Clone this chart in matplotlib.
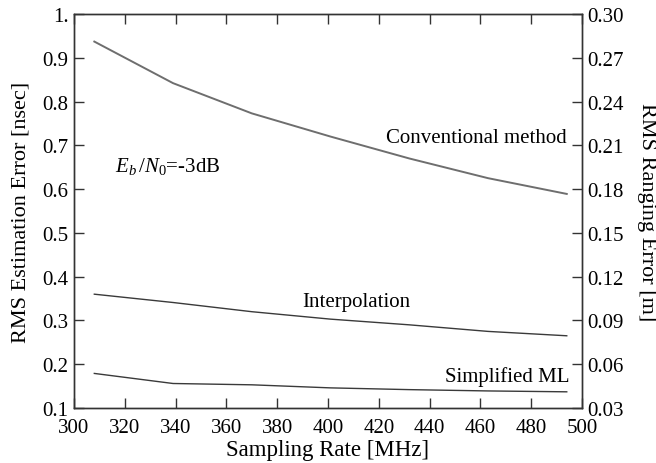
import matplotlib
matplotlib.use("Agg")
import matplotlib.pyplot as plt
from matplotlib.ticker import FixedLocator, FuncFormatter

plt.rcParams['font.family'] = ['Liberation Serif', 'DejaVu Serif']
plt.rcParams['mathtext.fontset'] = 'custom'
plt.rcParams['mathtext.rm'] = 'Liberation Serif'
plt.rcParams['mathtext.it'] = 'Liberation Serif:italic'

rate = [308, 339, 370, 401, 432, 463, 494]
conventional = [0.937, 0.842, 0.773, 0.720, 0.670, 0.625, 0.589]
interpolation = [0.360, 0.341, 0.320, 0.303, 0.290, 0.275, 0.265]
simplified_ml = [0.179, 0.156, 0.153, 0.146, 0.142, 0.139, 0.137]

left_ticks = [0.1, 0.2, 0.3, 0.4, 0.5, 0.6, 0.7, 0.8, 0.9, 1.0]
right_ticks = [0.03, 0.06, 0.09, 0.12, 0.15, 0.18, 0.21, 0.24, 0.27, 0.30]
x_ticks = [300, 320, 340, 360, 380, 400, 420, 440, 460, 480, 500]

fs_tick = 15
fs_lab = 16
fs_txt = 15
fig = plt.figure(figsize=(6.56, 4.64), dpi=100)
ax_w = 0.7744
ax_h = 0.8492
ax = fig.add_axes([0.1128, 0.1185, ax_w, ax_h])

ax.plot(rate, conventional, color='#6e6e6e', lw=1.4)
ax.plot(rate, interpolation, color='#3a3a3a', lw=1.0)
ax.plot(rate, simplified_ml, color='#3a3a3a', lw=1.0)

ax.set_xlim(300, 500)
ax.set_ylim(0.1, 1.0)
ax.xaxis.set_major_locator(FixedLocator(x_ticks))
ax.yaxis.set_major_locator(FixedLocator(left_ticks))
ax.yaxis.set_major_formatter(FuncFormatter(lambda v, p: "1." if abs(v - 1) < 1e-9 else f"{v:.1f}"))
ax.tick_params(axis='x', direction='in', top=True, length=7, width=1, labelsize=fs_tick, pad=7, color='#333333')
ax.tick_params(axis='y', direction='in', right=False, length=7, width=1, labelsize=fs_tick, pad=4, color='#333333')
for s in ax.spines.values():
    s.set_color('#333333')
    s.set_linewidth(1.0)

ax2 = ax.twinx()
ax2.set_ylim(0.03, 0.30)
ax2.yaxis.set_major_locator(FixedLocator(right_ticks))
ax2.yaxis.set_major_formatter(FuncFormatter(lambda v, p: f"{v:.2f}"))
ax2.tick_params(axis='y', direction='in', length=7, width=1, labelsize=fs_tick, pad=4, color='#333333')
for s in ax2.spines.values():
    s.set_color('#333333')
    s.set_linewidth(1.0)

ax.set_xlabel("Sampling Rate [MHz]", fontsize=fs_lab + 0.5)
ax.xaxis.set_label_coords(0.5, -(450 - 409) / (ax_h * 464))
ax.xaxis.label.set_va('center')
ax.set_ylabel("RMS Estimation Error [nsec]", fontsize=fs_lab)
ax.yaxis.set_label_coords(-(74 - 21) / (ax_w * 656), 0.5)
ax.yaxis.label.set_va('center')
ax2.set_ylabel("RMS Ranging Error [m]", fontsize=fs_lab, rotation=270)
ax2.yaxis.set_label_coords(1 + (646 - 582) / (ax_w * 656), 0.5)
ax2.yaxis.label.set_va('center')

ax.text(494, 0.719, "Conventional method", fontsize=fs_txt, ha='right', va='center')
ax.text(390, 0.344, "Interpolation", fontsize=fs_txt, ha='left', va='center')
ax.text(495, 0.173, "Simplified ML", fontsize=fs_txt, ha='right', va='center')
ax.text(316, 0.653, "$E_b\\,/N_0$=-3dB", fontsize=fs_txt, ha='left', va='center')

fig.savefig("out.png", dpi=100)
